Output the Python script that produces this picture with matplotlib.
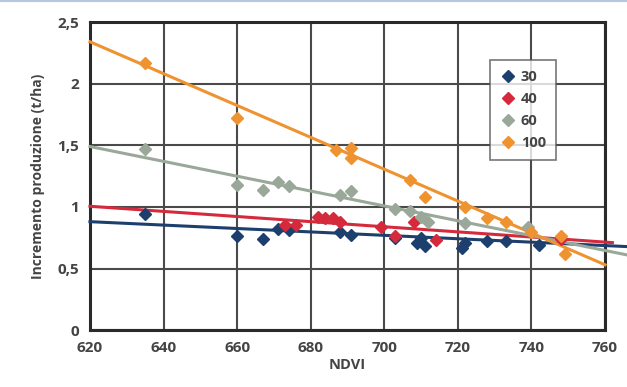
import matplotlib.pyplot as plt
from matplotlib.lines import Line2D
from matplotlib.ticker import FuncFormatter

plt.rcParams['font.family'] = ['Open Sans', 'DejaVu Sans']

# data
x30 = [635, 660, 667, 671, 674, 688, 691, 703, 709, 710, 711, 721, 722, 728, 733, 742]
y30 = [0.94, 0.76, 0.74, 0.82, 0.81, 0.80, 0.77, 0.75, 0.71, 0.75, 0.68, 0.67, 0.71, 0.72, 0.72, 0.69]

x40 = [673, 676, 682, 684, 686, 688, 699, 703, 708, 714, 748]
y40 = [0.85, 0.85, 0.92, 0.91, 0.91, 0.88, 0.84, 0.76, 0.88, 0.73, 0.74]

x60 = [635, 660, 667, 671, 674, 688, 691, 703, 707, 710, 712, 722, 739]
y60 = [1.47, 1.18, 1.14, 1.20, 1.17, 1.10, 1.13, 0.98, 0.97, 0.92, 0.88, 0.87, 0.84]

x100 = [635, 660, 687, 691, 691, 707, 711, 722, 728, 733, 740, 748, 749]
y100 = [2.17, 1.72, 1.46, 1.48, 1.40, 1.22, 1.08, 1.00, 0.91, 0.88, 0.80, 0.76, 0.62]

# trend lines (start, end)
trend_x = {'30': [620, 768], '40': [620, 762], '60': [620, 766], '100': [620, 760]}
trend_y = {'30': [0.88, 0.675], '40': [1.005, 0.71], '60': [1.49, 0.61], '100': [2.34, 0.53]}

labels = ['30', '40', '60', '100']
colors = {'30': '#1d3f6e', '40': '#d42a3c', '60': '#9aa899', '100': '#ef9230'}
series = {'30': (x30, y30), '40': (x40, y40), '60': (x60, y60), '100': (x100, y100)}

fig = plt.figure(figsize=(6.27, 3.87), dpi=100)
ax = fig.add_axes([0.1435, 0.147, 0.8215, 0.796])

for lab in labels:
    ax.plot(trend_x[lab], trend_y[lab], color=colors[lab], lw=2.2, clip_on=False, zorder=3)
for lab in labels:
    xs, ys = series[lab]
    ax.plot(xs, ys, 'D', color=colors[lab], ms=6, label=lab, zorder=4, clip_on=False)

ax.set_xlim(620, 760)
ax.set_ylim(0, 2.5)
ax.set_xticks(range(620, 761, 20))
ax.set_yticks([0, 0.5, 1, 1.5, 2, 2.5])
ax.yaxis.set_major_formatter(FuncFormatter(lambda v, p: ('%g' % v).replace('.', ',')))
ax.grid(True, color='#4a4a4a', lw=1.5, zorder=1)
ax.set_axisbelow(True)
for s in ax.spines.values():
    s.set_linewidth(2.2)
    s.set_color('#2a2a2a')
ax.tick_params(length=0, pad=8, labelsize=11, labelcolor='#444444')
for t in ax.get_xticklabels() + ax.get_yticklabels():
    t.set_fontweight('bold')

ax.set_xlabel('NDVI', fontsize=10.5, fontweight='bold', color='#444444', labelpad=2)
ax.set_ylabel('Incremento produzione (t/ha)', fontsize=10, fontweight='bold', color='#444444', labelpad=9)

leg = ax.legend(loc='upper left', bbox_to_anchor=(0.777, 0.877), fontsize=10.5, frameon=True,
                fancybox=False, edgecolor='#555555', handletextpad=0.4, borderpad=0.7,
                labelspacing=0.55, handlelength=1.0, borderaxespad=0)
leg.get_frame().set_linewidth(1.2)
for t in leg.get_texts():
    t.set_fontweight('bold')
    t.set_color('#444444')

# thin light-blue rule along the top edge
fig.add_artist(Line2D([0, 1], [0.997, 0.997], color='#b8c6e0', lw=1.5))

fig.savefig('out.png', dpi=100)
